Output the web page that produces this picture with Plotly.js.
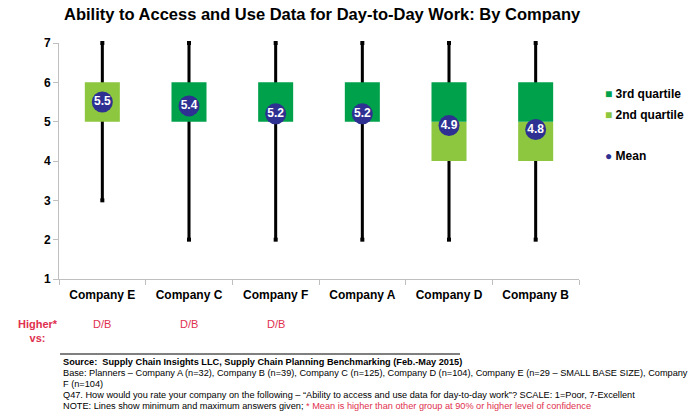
<!DOCTYPE html>
<html><head><meta charset="utf-8">
<script src="https://cdn.plot.ly/plotly-3.0.1.min.js"></script>
<style>html,body{margin:0;padding:0;background:#fff}#chart{width:700px;height:417px}</style>
</head><body><div id="chart"></div>
<script>
const companies = ['Company E','Company C','Company F','Company A','Company D','Company B'];
const minVals = [3,2,2,2,2,2];
const maxVals = [7,7,7,7,7,7];
const q1Vals = [5,5,5,5,4,4];
const medianVals = [6,5,5,5,5,5];
const q3Vals = [6,6,6,6,6,6];
const meanVals = [5.5,5.4,5.2,5.2,4.9,4.8];
const higherVs = ['D/B','D/B','D/B','','',''];
const yTicks = [1,2,3,4,5,6,7];

const DARK = '#00A14B', LIGHT = '#8DC63F', NAVY = '#2E3192', RED = '#E0304E';
const FONT = 'Liberation Sans, Arial, sans-serif';

const L = 59, R = 579, T = 43, B = 279;
const px2x = px => (px - L) / (R - L);
const py2y = py => (B - py) / (B - T);

const traces = [
  { type:'bar', x:companies, base:minVals, y:maxVals.map((v,i)=>v-minVals[i]), width:0.035,
    marker:{color:'#000'}, hoverinfo:'skip', showlegend:false },
  { type:'bar', x:companies, base:q1Vals, y:medianVals.map((v,i)=>v-q1Vals[i]), width:0.404,
    marker:{color:LIGHT}, name:'2nd quartile', showlegend:false },
  { type:'bar', x:companies, base:medianVals, y:q3Vals.map((v,i)=>v-medianVals[i]), width:0.404,
    marker:{color:DARK}, name:'3rd quartile', showlegend:false },
  { type:'scatter', mode:'markers', x:companies.concat(companies), y:minVals.concat(maxVals),
    marker:{symbol:'square', size:4, color:'#000'}, cliponaxis:false, hoverinfo:'skip', showlegend:false },
  { type:'scatter', mode:'markers+text', x:companies, y:meanVals, text:meanVals.map(v=>v.toFixed(1)),
    textposition:'middle center', textfont:{family:FONT, size:12, color:'#fff', weight:'bold'},
    marker:{size:21, color:NAVY}, name:'Mean', cliponaxis:false, showlegend:false }
];

const annotations = [];
annotations.push({xref:'paper', yref:'paper', x:px2x(38), y:py2y(331), text:'Higher*<br>vs:',
  showarrow:false, xanchor:'center', yanchor:'middle', align:'center',
  font:{family:FONT, size:11, color:RED, weight:'bold'}});
higherVs.forEach((t,i)=>{ if(t) annotations.push({xref:'x', yref:'paper', x:companies[i], y:py2y(324), text:t,
  showarrow:false, xanchor:'center', yanchor:'middle', font:{family:FONT, size:11, color:RED}}); });

const legendItems = [
  ['<span style="color:'+DARK+'">■</span> 3rd quartile', 94],
  ['<span style="color:'+LIGHT+'">■</span> 2nd quartile', 115],
  ['<span style="color:'+NAVY+'">●</span> Mean', 156]
];
legendItems.forEach(([t,py])=>annotations.push({xref:'paper', yref:'paper', x:px2x(603), y:py2y(py), text:t,
  showarrow:false, xanchor:'left', yanchor:'middle', font:{family:FONT, size:12, color:'#000', weight:'bold'}}));

const notes = [
  ['<b>Source:  Supply Chain Insights LLC, Supply Chain Planning Benchmarking (Feb.-May 2015)</b>', 362],
  ['Base: Planners – Company A (n=32), Company B (n=39), Company C (n=125), Company D (n=104), Company E (n=29 – SMALL BASE SIZE), Company', 373],
  ['F (n=104)', 384],
  ['Q47. How would you rate your company on the following – “Ability to access and use data for day-to-day work”? SCALE: 1=Poor, 7-Excellent', 395],
  ['NOTE: Lines show minimum and maximum answers given; <span style="color:'+RED+'">* Mean is higher than other group at 90% or higher level of confidence</span>', 406]
];
notes.forEach(([t,py])=>annotations.push({xref:'paper', yref:'paper', x:px2x(61), y:py2y(py), text:t,
  showarrow:false, xanchor:'left', yanchor:'middle', align:'left', font:{family:FONT, size:9.2, color:'#000'}}));

const layout = {
  width:700, height:417,
  margin:{l:L, r:700-R, t:T, b:417-B, pad:0},
  paper_bgcolor:'#fff', plot_bgcolor:'#fff',
  barmode:'overlay',
  showlegend:false,
  title:{text:'<b>Ability to Access and Use Data for Day-to-Day Work: By Company</b>',
    font:{family:FONT, size:16.5, color:'#000'}, xref:'paper', x:px2x(64), xanchor:'left',
    yref:'container', y:1-14/417, yanchor:'middle'},
  xaxis:{type:'category', range:[-0.5,5.5], tickson:'boundaries', ticks:'outside', ticklen:5,
    tickcolor:'#BFBFBF', showline:true, linecolor:'#BFBFBF', linewidth:1, showgrid:false, zeroline:false,
    ticklabelstandoff:5,
    tickfont:{family:FONT, size:12, color:'#000', weight:'bold'}, fixedrange:true},
  yaxis:{range:[1,7], tickvals:yTicks, ticks:'outside', ticklen:5, tickcolor:'#BFBFBF',
    showline:true, linecolor:'#BFBFBF', linewidth:1, showgrid:false, zeroline:false,
    tickfont:{family:FONT, size:12, color:'#000', weight:'bold'}, fixedrange:true},
  shapes:[{type:'line', xref:'paper', yref:'paper', x0:px2x(60), x1:px2x(460), y0:py2y(354), y1:py2y(354),
    line:{color:'#000', width:1}}],
  annotations:annotations
};

Plotly.newPlot('chart', traces, layout, {displayModeBar:false, staticPlot:true});
</script></body></html>
